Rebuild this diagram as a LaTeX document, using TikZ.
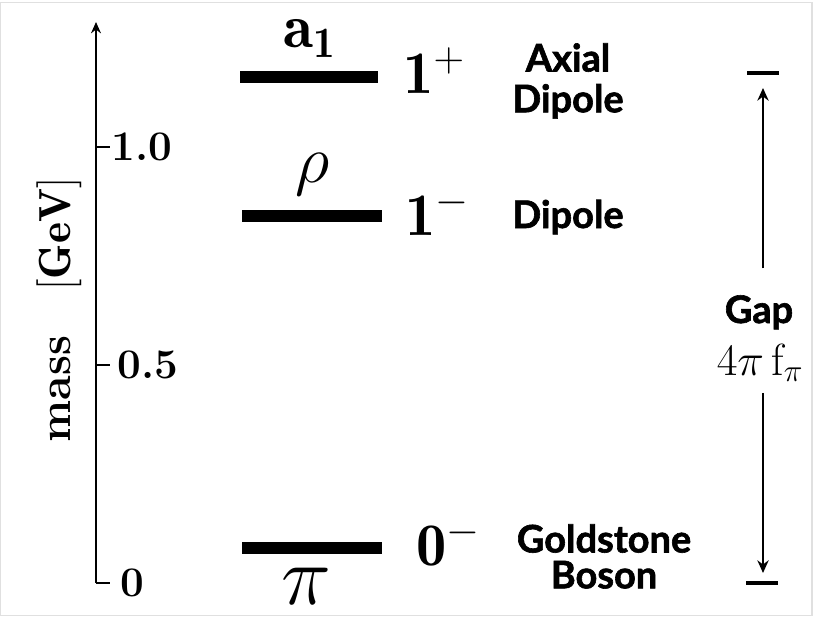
\RequirePackage{fix-cm}
\documentclass[tikz,border=0pt]{standalone}
\usepackage{fontspec}
\newfontfamily\gillfont{Lato}[BoldFeatures={FakeBold=1.6}]
\usetikzlibrary{arrows.meta}

\begin{document}
\begin{tikzpicture}[
every node/.style={inner sep=0pt},
level/.style={fill=black, minimum width=3.5cm, minimum height=0.28cm},
gapbar/.style={fill=black, minimum width=0.8cm, minimum height=0.08cm},
meson/.style={anchor=base},
state/.style={anchor=base west, font=\fontsize{43}{47}\selectfont},
kind/.style={align=center, font=\gillfont\bfseries\fontsize{27}{28.5}\selectfont},
tick/.style={anchor=west, font=\bfseries\fontsize{30}{34}\selectfont},
gaparrow/.style={-{Stealth[length=9pt,width=8pt]}, line width=1.6pt}
]

\useasboundingbox (0,0) rectangle (20.325,15.4);
\draw[black!12, line width=0.8pt] (0.01,0.01) rectangle (20.3,15.33);

\coordinate (o) at (2.4,0.825);
\draw[-{Stealth[length=8pt,width=7pt]}, line width=2pt] (o) -- ++(0,14.025);
\foreach \m/\lab/\x [count=\i] in {0/0/3.0, 0.5/0.5/2.93, 1.0/1.0/2.78}
{
\draw[line width=2pt] (2.4,0.825+10.9*\m) -- (2.75,0.825+10.9*\m);
\node[tick] (tick\i) at (\x,0.825+10.9*\m) {\lab};
}

\node[rotate=90, anchor=base, font=\bfseries\fontsize{32}{36}\selectfont] (mass)
at (1.75,7.65) {mass\quad$[\mathbf{GeV}]$};

\node[level, minimum width=3.45cm] (a1) at (7.725,13.475) {};
\node[level] (rho) at (7.8,10.0) {};
\node[level] (pi) at (7.8,1.7) {};

\node[meson, font=\fontsize{44}{48}\selectfont] (a1name) at (7.75,14.2) {$\mathbf{a_1}$};
\node[meson, font=\fontsize{48}{52}\selectfont] (rhoname) at (7.825,10.85) {$\rho$};
\node[meson, font=\fontsize{60}{64}\selectfont] (piname) at (7.65,0.3) {$\pi$};

\node[state] (a1jp) at (10.08,13.075) {$\mathbf{1}^{+}$};
\node[state] (rhojp) at (10.13,9.525) {$\mathbf{1}^{-}$};
\node[state] (pijp) at (10.4,1.275) {$\mathbf{0}^{-}$};

\node[kind, anchor=north] (a1kind) at (14.2,14.325) {Axial\\[0.5pt]Dipole};
\node[kind, anchor=base] (rhokind) at (14.2,9.7) {Dipole};
\node[kind, anchor=north] (pikind) at (15.1,2.3) {Goldstone\\[-3pt]Boson};

\node[gapbar] (gtop) at (19.075,13.575) {};
\node[gapbar] (gbot) at (19.05,0.825) {};
\node[kind, anchor=base] (gap) at (18.975,7.325) {Gap};
\node[anchor=base, font=\fontsize{32}{36}\selectfont] (fpi) at (19.0,6.025) {$4\pi\,\mathrm{f}_\pi$};

\draw[gaparrow, shorten <=0.665cm, shorten >=0.375cm] (gtop |- gap.north) -- (gtop.center);
\draw[gaparrow, shorten <=0.27cm, shorten >=0.25cm] (gtop |- fpi.south) -- (gtop |- gbot);

\end{tikzpicture}
\end{document}
